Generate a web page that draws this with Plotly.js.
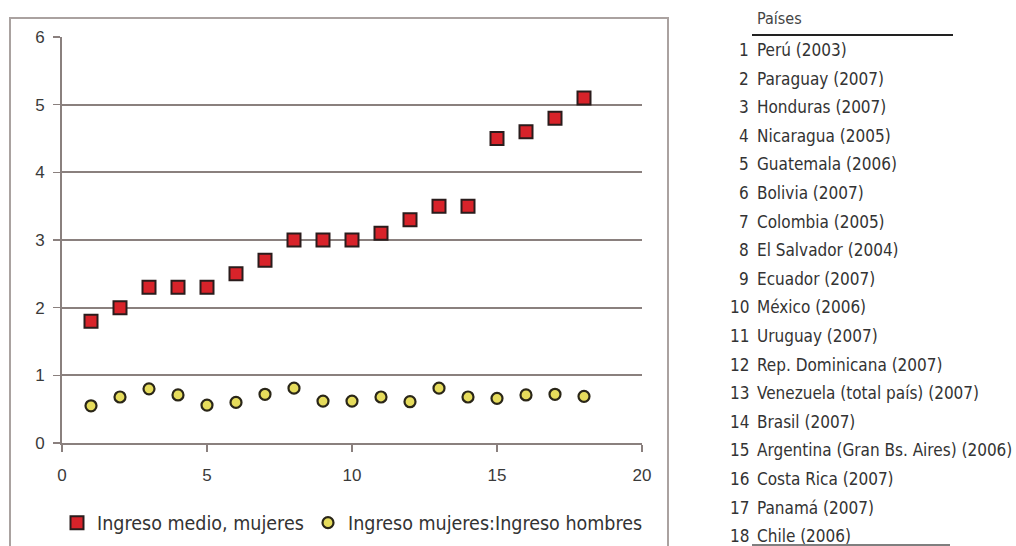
<!DOCTYPE html>
<html>
<head>
<meta charset="utf-8">
<script src="https://cdn.plot.ly/plotly-3.0.1.min.js"></script>
<style>html,body{margin:0;padding:0;background:#fff}#chart{width:1016px;height:546px}</style>
</head>
<body>
<div id="chart"></div>
<script>
const countryIndex = [1,2,3,4,5,6,7,8,9,10,11,12,13,14,15,16,17,18];
const ingresoMedioMujeres = [1.8,2.0,2.3,2.3,2.3,2.5,2.7,3.0,3.0,3.0,3.1,3.3,3.5,3.5,4.5,4.6,4.8,5.1];
const ratioMujeresHombres = [0.55,0.68,0.80,0.71,0.56,0.60,0.72,0.81,0.62,0.62,0.68,0.61,0.81,0.68,0.66,0.71,0.72,0.69];
const countryNames = ["Perú (2003)","Paraguay (2007)","Honduras (2007)","Nicaragua (2005)","Guatemala (2006)","Bolivia (2007)","Colombia (2005)","El Salvador (2004)","Ecuador (2007)","México (2006)","Uruguay (2007)","Rep. Dominicana (2007)","Venezuela (total país) (2007)","Brasil (2007)","Argentina (Gran Bs. Aires) (2006)","Costa Rica (2007)","Panamá (2007)","Chile (2006)"];
const seriesNames = ["Ingreso medio, mujeres","Ingreso mujeres:Ingreso hombres"];
const tableHeader = "Países";

const W = 1016, H = 546;
const L = 62, R = 642, T = 37, B = 443;
const px = x => (x - L) / (R - L);
const py = y => (B - y) / (B - T);
const grid = '#8a807e';
const cond = '"DejaVu Sans Condensed", "DejaVu Sans", sans-serif';

const traces = [
  {x: countryIndex, y: ingresoMedioMujeres, type: 'scatter', mode: 'markers', name: seriesNames[0],
   legend: 'legend',
   marker: {symbol: 'square', size: 13, color: '#d8232a', line: {color: '#2a1c1c', width: 2}}},
  {x: countryIndex, y: ratioMujeresHombres, type: 'scatter', mode: 'markers', name: seriesNames[1],
   legend: 'legend2',
   marker: {symbol: 'circle', size: 11, color: '#e6dc5c', line: {color: '#2a2618', width: 2.2}}}
];

const annotations = [];
countryNames.forEach((n, i) => {
  const yy = py(50 + i * 28.6);
  annotations.push({xref: 'paper', yref: 'paper', x: px(751), y: yy, xanchor: 'right', yanchor: 'middle',
    text: String(countryIndex[i]), showarrow: false, font: {family: cond, size: 17, color: '#333'}});
  annotations.push({xref: 'paper', yref: 'paper', x: px(755), y: yy, xanchor: 'left', yanchor: 'middle',
    text: n, showarrow: false, font: {family: cond, size: 17, color: '#333'}});
});
annotations.push({xref: 'paper', yref: 'paper', x: px(755), y: py(19), xanchor: 'left', yanchor: 'middle',
  text: tableHeader, showarrow: false, font: {family: cond, size: 16, color: '#444'}});

const shapes = [
  {type: 'rect', xref: 'paper', yref: 'paper', x0: px(10), x1: px(668), y0: py(18), y1: py(580),
   line: {color: '#aaa2a0', width: 2}, fillcolor: 'rgba(0,0,0,0)', layer: 'below'},
  {type: 'line', xref: 'paper', yref: 'paper', x0: px(752), x1: px(953), y0: py(35), y1: py(35),
   line: {color: '#222', width: 2}},
  {type: 'line', xref: 'paper', yref: 'paper', x0: px(752), x1: px(950), y0: py(545), y1: py(545),
   line: {color: '#555', width: 1.5}}
];

const tickFont = {family: '"Liberation Sans", Arial, sans-serif', size: 17, color: '#3a3a3a'};
const legendFont = {family: cond, size: 19.5, color: '#333'};

const layout = {
  width: W, height: H,
  margin: {l: L, r: W - R, t: T, b: H - B},
  paper_bgcolor: '#fff', plot_bgcolor: '#fff',
  showlegend: true,
  legend: {orientation: 'h', xref: 'paper', yref: 'container', x: px(57), y: (H - 523) / H,
    xanchor: 'left', yanchor: 'middle', font: legendFont, bgcolor: 'rgba(0,0,0,0)'},
  legend2: {orientation: 'h', xref: 'paper', yref: 'container', x: px(308), y: (H - 523) / H,
    xanchor: 'left', yanchor: 'middle', font: legendFont, bgcolor: 'rgba(0,0,0,0)'},
  xaxis: {range: [0, 20], dtick: 5, tick0: 0, showgrid: false, zeroline: false,
    showline: true, linecolor: grid, linewidth: 2, ticks: 'outside', ticklen: 7, tickwidth: 1.5, tickcolor: grid,
    ticklabelstandoff: 9, tickfont: tickFont, fixedrange: true},
  yaxis: {range: [0, 6], dtick: 1, tick0: 0, showgrid: true, gridcolor: grid, gridwidth: 2, zeroline: false,
    showline: true, linecolor: grid, linewidth: 2, ticks: 'outside', ticklen: 7, tickwidth: 1.5, tickcolor: grid,
    ticklabelstandoff: 5, tickfont: tickFont, fixedrange: true},
  annotations: annotations,
  shapes: shapes
};

Plotly.newPlot('chart', traces, layout, {displayModeBar: false, staticPlot: true});
</script>
</body>
</html>
